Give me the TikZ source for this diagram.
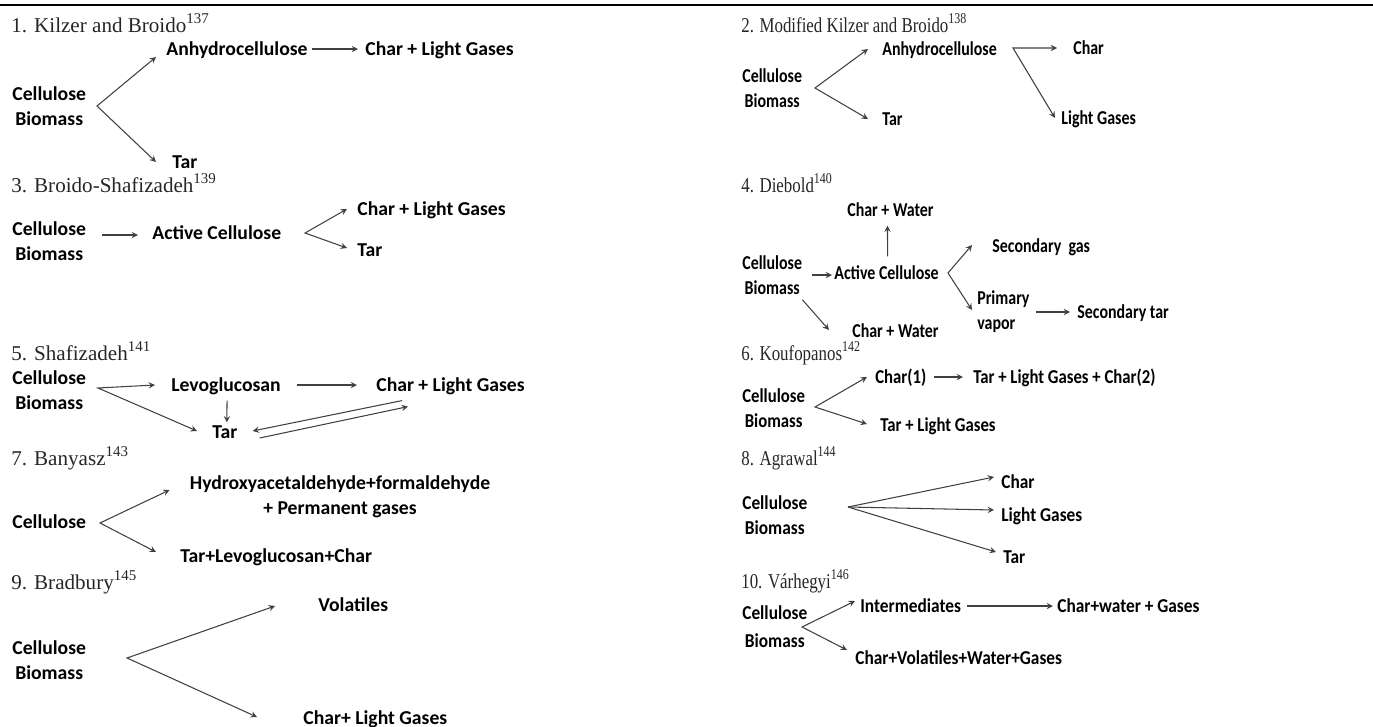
\documentclass[tikz,border=0pt]{standalone}
\usepackage{fontspec}
\setmainfont{Liberation Serif}
\newfontfamily\calA{Carlito}
\newfontfamily\calB{Carlito}[FakeStretch=0.81]
\newfontfamily\calC{Carlito}[FakeStretch=0.85]
\newfontfamily\calD{Carlito}[FakeStretch=0.88]
\newfontfamily\serB{Liberation Serif}[FakeStretch=0.8]
\newcommand{\refno}[1]{\raisebox{5pt}{\fontsize{8.5}{9}\selectfont #1}}
\usetikzlibrary{arrows, calc}
\tikzstyle{heading} = [anchor=base west, inner sep=0pt, text=black!85, font=\fontsize{12}{14}\selectfont]
\tikzstyle{headingb} = [heading, font=\serB\fontsize{12}{14}\selectfont]
\tikzstyle{lbl} = [anchor=west, inner sep=0pt, text height=7.1pt, text depth=0pt, font=\calA\bfseries\fontsize{11.2}{14.2}\selectfont]
\tikzstyle{lblb} = [lbl, font=\calB\bfseries\fontsize{11.2}{14.2}\selectfont]
\tikzstyle{lblc} = [lbl, font=\calC\bfseries\fontsize{11.2}{14.2}\selectfont]
\tikzstyle{lbld} = [lbl, font=\calD\bfseries\fontsize{11.2}{14.2}\selectfont]
\tikzstyle{src} = [anchor=west, inner sep=0pt, align=center, font=\calA\bfseries\fontsize{11.2}{14.2}\selectfont]
\tikzstyle{srcb} = [src, font=\calB\bfseries\fontsize{11.2}{14.2}\selectfont]
\tikzstyle{srcc} = [src, font=\calC\bfseries\fontsize{11.2}{14.2}\selectfont]
\tikzstyle{srcd} = [src, font=\calD\bfseries\fontsize{11.2}{14.2}\selectfont]
\tikzstyle{arrow} = [->, >=stealth, line width=0.6pt, draw=black!75]

\begin{document}
\begin{tikzpicture}[x=0.02cm, y=-0.02cm]
	\useasboundingbox (0,0) rectangle (1373,727);
	\draw [line width=1.7pt] (0,5) -- (1373,5);
	
	\node (t1) [heading] at (11,32) {1. Kilzer and Broido\refno{137}};
	\node (src1) [src] at (12,106) {Cellulose\\Biomass};
	\node (anhy1) [lbl] at (166,49) {Anhydrocellulose};
	\node (cg1) [lbl] at (365,49) {Char + Light Gases};
	\node (tar1) [lbl] at (172,162) {Tar};
	\coordinate (b1) at (97,106);
	\draw [arrow, <->] ($(anhy1.west)+(-10,8)$) -- (b1) -- ($(tar1.west)+(-16,0)$);
	\draw [arrow] ($(anhy1.east)+(4,0)$) -- ($(cg1.west)+(-7,0)$);
	
	\node (t2) [headingb] at (741,32) {2. Modified Kilzer and Broido\refno{138}};
	\node (src2) [srcb] at (742,88) {Cellulose\\Biomass};
	\node (anhy2) [lblb] at (882,49) {Anhydrocellulose};
	\node (tar2) [lblb] at (882,119) {Tar};
	\node (char2) [lblb] at (1073,48) {Char};
	\node (lg2) [lblb] at (1061,118) {Light Gases};
	\coordinate (b2) at (815,88);
	\coordinate (b2a) at (1013,48);
	\draw [arrow, <->] ($(anhy2.west)+(-14,0)$) -- (b2) -- ($(tar2.west)+(-14,0)$);
	\draw [arrow, <->] ($(char2.west)+(-16,0)$) -- (b2a) -- ($(lg2.west)+(-6,0)$);
	
	\node (t3) [heading] at (11,192) {3. Broido-Shafizadeh\refno{139}};
	\node (src3) [src] at (12,241) {Cellulose\\Biomass};
	\node (ac3) [lbl] at (152,233) {Active Cellulose};
	\node (cg3) [lbl] at (357,209) {Char + Light Gases};
	\node (tar3) [lbl] at (357,250) {Tar};
	\coordinate (b3) at (305,233);
	\draw [arrow] ($(src3.east)+(16,-6)$) -- ($(ac3.west)+(-14,2)$);
	\draw [arrow, <->] ($(cg3.west)+(-10,0)$) -- (b3) -- ($(tar3.west)+(-10,-2)$);
	
	\node (t4) [headingb] at (741,192) {4. Diebold\refno{140}};
	\node (cw4a) [lblb] at (847,210) {Char + Water};
	\node (src4) [srcb] at (742,275) {Cellulose\\Biomass};
	\node (ac4) [lblb] at (834,273) {Active Cellulose};
	\node (sg4) [lblb] at (992,246) {Secondary\ \ gas};
	\node (pv4) [srcb, align=left] at (977,312) {Primary\\vapor};
	\node (st4) [lblb] at (1077,312) {Secondary tar};
	\node (cw4b) [lblb] at (852,331) {Char + Water};
	\coordinate (b4) at (948,273);
	\draw [arrow] ($(src4.east)+(10,0)$) -- ($(ac4.west)+(-2,2)$);
	\draw [arrow] ($(ac4.north)+(1,-10)$) -- ($(cw4a.south)+(-3,9)$);
	\draw [arrow, <->] ($(sg4.west)+(-20,-1)$) -- (b4) -- ($(pv4.west)+(-5,-2)$);
	\draw [arrow] ($(pv4.east)+(6,0)$) -- ($(st4.west)+(-7,0)$);
	\draw [arrow] ($(src4.south east)+(0,5)$) -- ($(cw4b.west)+(-23,-1)$);
	
	\node (t5) [heading] at (11,360) {5. Shafizadeh\refno{141}};
	\node (src5) [src] at (12,390) {Cellulose\\Biomass};
	\node (levo5) [lbl] at (171,385) {Levoglucosan};
	\node (cg5) [lbl] at (376,385) {Char + Light Gases};
	\node (tar5) [lbl] at (212,432) {Tar};
	\coordinate (b5) at (98,388);
	\draw [arrow, <->] ($(levo5.west)+(-16,0)$) -- (b5) -- ($(tar5.west)+(-15,-1)$);
	\draw [arrow] ($(levo5.east)+(16,0)$) -- ($(cg5.west)+(-19,0)$);
	\draw [arrow] ($(levo5.south)+(1,9)$) -- ($(tar5.north)+(2,-3)$);
	\draw [arrow] ($(cg5.south west)+(26,9)$) -- ($(tar5.east)+(15,-1)$);
	\draw [arrow] ($(tar5.east)+(22,6)$) -- ($(cg5.south west)+(32,15)$);
	
	\node (t6) [headingb] at (741,360) {6. Koufopanos\refno{142}};
	\node (src6) [srcc] at (742,408) {Cellulose\\Biomass};
	\node (c16) [lblc] at (875,377) {Char(1)};
	\node (tlgc6) [lblc] at (973,377) {Tar + Light Gases + Char(2)};
	\node (tlg6) [lblc] at (880,425) {Tar + Light Gases};
	\coordinate (b6) at (815,407);
	\draw [arrow, <->] ($(c16.west)+(-8,0)$) -- (b6) -- ($(tlg6.west)+(-13,-1)$);
	\draw [arrow] ($(c16.east)+(7,0)$) -- ($(tlgc6.west)+(-10,0)$);
	
	\node (t7) [heading] at (11,465) {7. Banyasz\refno{143}};
	\node (hyd7) [src, anchor=center] at (340,497) {Hydroxyacetaldehyde+formaldehyde\\+ Permanent gases};
	\node (src7) [lbl] at (12,522) {Cellulose};
	\node (tlc7) [lbl] at (180,556) {Tar+Levoglucosan+Char};
	\coordinate (b7) at (100,523);
	\draw [arrow, <->] ($(hyd7.west)+(-20,-7)$) -- (b7) -- ($(tlc7.west)+(-24,-4)$);
	
	\node (t8) [headingb] at (741,465) {8. Agrawal\refno{144}};
	\node (src8) [srcd] at (742,515) {Cellulose\\Biomass};
	\node (char8) [lbld] at (1001,482) {Char};
	\node (lg8) [lbld] at (1001,515) {Light Gases};
	\node (tar8) [lbld] at (1003,557) {Tar};
	\coordinate (b8) at (848,507);
	\foreach \n in {char8, lg8, tar8}
		\draw [arrow] (b8) -- ($(\n.west)+(-7,-5)$);
	
	\node (t9) [heading] at (11,589) {9. Bradbury\refno{145}};
	\node (src9) [src] at (12,660) {Cellulose\\Biomass};
	\node (vol9) [lbl] at (318,605) {Volatiles};
	\node (clg9) [lbl] at (303,718) {Char+ Light Gases};
	\coordinate (b9) at (127,658);
	\draw [arrow, <->] ($(vol9.west)+(-43,1)$) -- (b9) -- ($(clg9.west)+(-46,-1)$);
	
	\node (t10) [headingb] at (741,588) {10. Várhegyi\refno{146}};
	\node (src10) [srcd, font=\calD\bfseries\fontsize{11.2}{15.9}\selectfont] at (742,627) {Cellulose\\Biomass};
	\node (int10) [lbld] at (860,606) {Intermediates};
	\node (cwg10) [lbld] at (1057,606) {Char+water + Gases};
	\node (cvw10) [lbld] at (855,658) {Char+Volatiles+Water+Gases};
	\coordinate (b10) at (802,627);
	\draw [arrow, <->] ($(int10.west)+(-5,-5)$) -- (b10) -- ($(cvw10.west)+(-8,-8)$);
	\draw [arrow] ($(int10.east)+(6,0)$) -- ($(cwg10.west)+(-4,0)$);
\end{tikzpicture}
\end{document}
